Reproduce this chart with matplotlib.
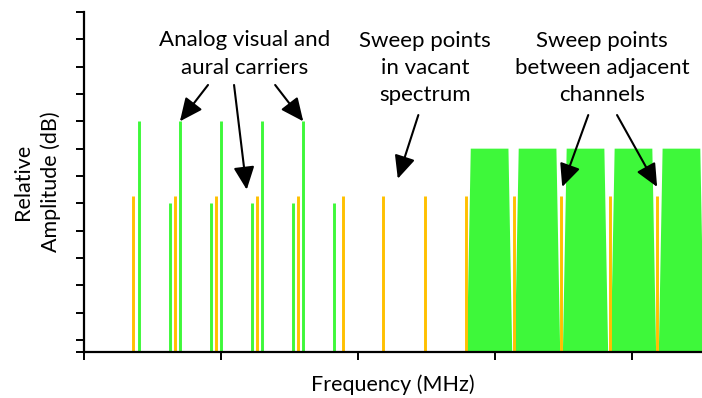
import matplotlib
matplotlib.use("Agg")
import matplotlib.pyplot as plt
import numpy as np

plt.rcParams['font.family'] = ['Lato', 'DejaVu Sans']

# frequencies in MHz, amplitudes in relative dB units
visual_mhz = [8, 14, 20, 26, 32]
visual_amp = 8
aural_mhz = [12.5, 18.5, 24.5, 30.5, 36.5]
aural_amp = 5
sweep_mhz = [7.2, 13.3, 19.3, 25.2, 31.3, 37.8, 43.7, 49.7, 55.7,
             62.7, 69.6, 76.7, 83.7]
sweep_amp = 5.28
channel_mhz = [59.2, 66.2, 73.2, 80.2, 87.2]
channel_amp = 7
channel_half_bw = [3.3, 2.75]   # half width at floor / at top

green = '#3ef83a'
orange = '#ffc000'

fig = plt.figure(figsize=(7.02, 3.98), dpi=100)
ax = fig.add_axes([84 / 702, 46 / 398, 618 / 702, 340 / 398])

floor = -0.44
ax.set_xlim(0, 90.2)
ax.set_ylim(floor, 12)

# digital channels (trapezoid shaped)
for c in channel_mhz:
    xs = [c - channel_half_bw[0], c - channel_half_bw[1],
          c + channel_half_bw[1], c + channel_half_bw[0]]
    ys = [floor, channel_amp, channel_amp, floor]
    ax.fill(xs, ys, color=green, lw=0, zorder=2)

ax.vlines(visual_mhz, floor, visual_amp, color=green, lw=2.1, zorder=3)
ax.vlines(aural_mhz, floor, aural_amp, color=green, lw=2.1, zorder=3)
ax.vlines(sweep_mhz, floor, sweep_amp, color=orange, lw=2.1, zorder=4)

# axes styling
for s in ['top', 'right']:
    ax.spines[s].set_visible(False)
for s in ['left', 'bottom']:
    ax.spines[s].set_linewidth(1.6)
    ax.spines[s].set_zorder(5)
ax.set_yticks([floor] + list(range(0, 13)))
ax.set_xticks([0, 20, 40, 60, 80])
ax.tick_params(axis='y', direction='out', length=5.5, width=1.4, labelleft=False)
ax.tick_params(axis='x', direction='out', length=6, width=1.4, labelbottom=False)

ax.set_xlabel('Frequency (MHz)', fontsize=15.5, labelpad=10)
ax.set_ylabel('Relative\nAmplitude (dB)', fontsize=15.5, labelpad=11,
              linespacing=1.45)

# annotations
tsize = 16
ax.text(23.5, 10.46, 'Analog visual and\naural carriers', ha='center',
        va='center', fontsize=tsize, linespacing=1.45)
ax.text(49.8, 9.95, 'Sweep points\nin vacant\nspectrum', ha='center',
        va='center', fontsize=tsize, linespacing=1.45)
ax.text(75.6, 9.95, 'Sweep points\nbetween adjacent\nchannels', ha='center',
        va='center', fontsize=tsize, linespacing=1.45)

arrows = [((14, 8.0), (18.1, 9.33)),
          ((23.75, 5.5), (21.9, 9.33)),
          ((32, 8.0), (27.9, 9.33)),
          ((45.8, 5.9), (48.8, 8.23)),
          ((69.8, 5.6), (73.6, 8.23)),
          ((83.65, 5.6), (77.8, 8.23))]
for tip, start in arrows:
    ax.annotate('', xy=tip, xytext=start,
                arrowprops=dict(arrowstyle='-|>,head_length=0.7,head_width=0.32',
                                mutation_scale=20, lw=1.5, color='black',
                                shrinkA=0, shrinkB=0), zorder=6)

fig.savefig('out.png', dpi=100)
